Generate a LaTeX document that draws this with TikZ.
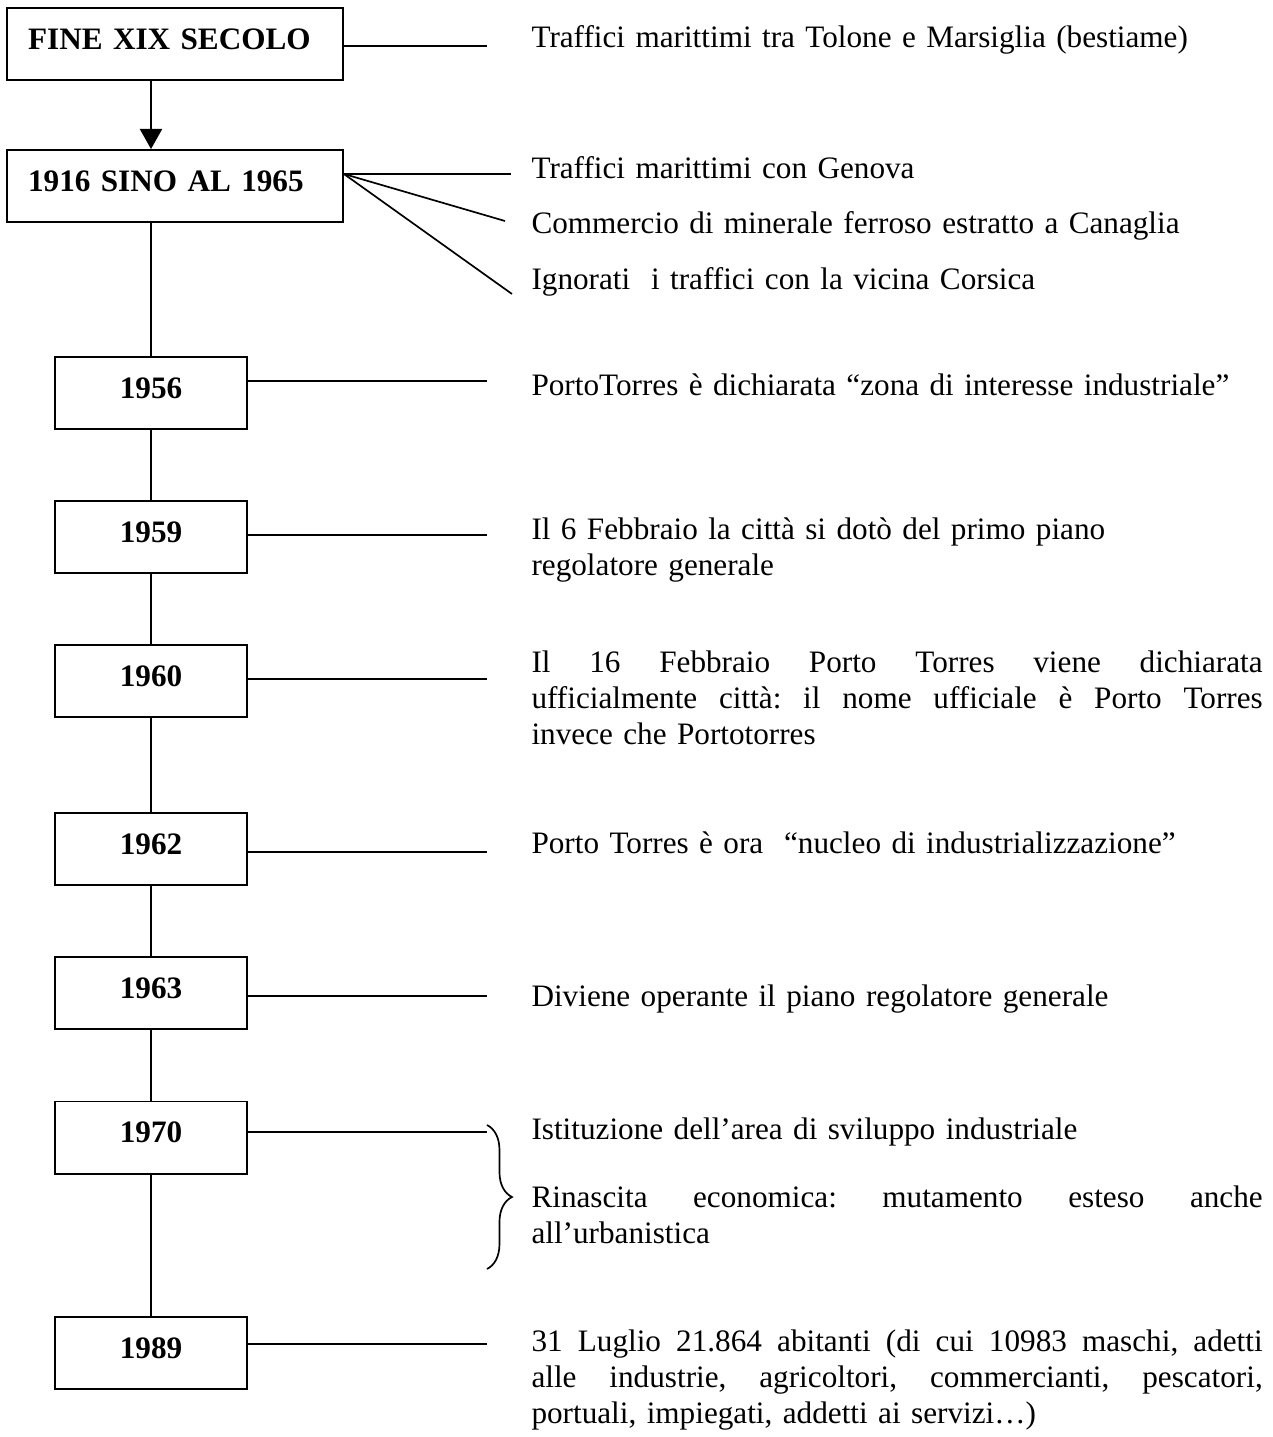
\documentclass[tikz,border=0pt]{standalone}
\usepackage{fontspec}
\setmainfont{Liberation Serif}
\usetikzlibrary{arrows.meta,decorations.pathreplacing}
\newcommand{\jline}[1]{\leavevmode\hbox to 281.2pt{\spaceskip=3pt plus 1fil\relax #1}}

\begin{document}
\begin{tikzpicture}[x=0.3846pt,y=-0.3846pt,font=\fontsize{12pt}{13.85pt}\selectfont\frenchspacing,
  >={Triangle[width=8.5pt,length=7.7pt]},
  period/.style={draw,line width=0.75pt,minimum height=27.7pt,inner sep=0pt,
    text height=8pt,text depth=4pt,font=\fontsize{12pt}{13.85pt}\selectfont\bfseries},
  era/.style={period,minimum width=129.2pt,text width=113pt,align=left},
  year/.style={period,minimum width=73.85pt},
  fact/.style={anchor=base west,inner sep=0pt,text width=281.2pt,align=left},
  link/.style={line width=0.65pt}]
 \useasboundingbox (0,0) rectangle (1273,1437);
 % ---- period boxes ----
 \node[era] (fine) at (175,44) {FINE XIX SECOLO};
 \node[era] (sino) at (175,186) {1916 SINO AL 1965};
 \foreach \n/\y in {1956/393,1959/537,1960/681,1962/849,1963/993,1970/1137.5,1989/1353}
   \node[year] (b\n) at (151,\y) {\n};
 % ---- trunk ----
 \draw[link,->] (fine.south -| b1956) -- (sino.north -| b1956);
 \draw[link] (sino.south -| b1956) -- (b1956.north);
 \foreach \a/\b in {1956/1959,1959/1960,1960/1962,1962/1963,1963/1970,1970/1989}
   \draw[link] (b\a.south) -- (b\b.north);
 % ---- leader lines ----
 \coordinate (e0) at (487,46);
 \coordinate (e1) at (511,174);
 \coordinate (e2) at (505,221);
 \coordinate (e3) at (512,294);
 \draw[link] (fine.east |- e0) -- (e0);
 \draw[link] (sino.east |- e1) -- (e1);
 \draw[link] (sino.east |- e1) -- (e2);
 \draw[link] (sino.east |- e1) -- (e3);
 \foreach \n/\y in {1956/381,1959/535,1960/679,1962/852,1963/996,1970/1132,1989/1344}{
   \coordinate (e\n) at (487,\y);
   \draw[link] (b\n.east |- e\n) -- (e\n);}
 % ---- brace for 1970 ----
 \coordinate (brA) at (487,1125);
 \coordinate (brB) at (487,1269);
 \draw[link,decorate,decoration={brace,amplitude=9.6pt}] (brA) -- (brB);
 % ---- facts ----
 \node[fact] (tFine) at (531,48) {Traffici marittimi tra Tolone e Marsiglia (bestiame)};
 \node[fact] (tGen) at (531,179) {Traffici marittimi con Genova};
 \node[fact] (tMin) at (531,234) {Commercio di minerale ferroso estratto a Canaglia};
 \node[fact] (tCor) at (531,290) {Ignorati\ \ i traffici con la vicina Corsica};
 \node[fact] (t1956) at (531,395) {PortoTorres è dichiarata “zona di interesse industriale”};
 \node[fact] (t1959) at (531,539) {Il 6 Febbraio la città si dotò del primo piano\\regolatore generale};
 \node[fact] (t1960) at (531,672) {\jline{Il 16 Febbraio Porto Torres viene dichiarata}\\
   \jline{ufficialmente città: il nome ufficiale è Porto Torres}\\invece che Portotorres};
 \node[fact] (t1962) at (531,853) {Porto Torres è ora\ \ “nucleo di industrializzazione”};
 \node[fact] (t1963) at (531,1006) {Diviene operante il piano regolatore generale};
 \node[fact] (t1970a) at (531,1139) {Istituzione dell’area di sviluppo industriale};
 \node[fact] (t1970b) at (531,1207) {\jline{Rinascita economica: mutamento esteso anche}\\all’urbanistica};
 \node[fact] (t1989) at (531,1351) {\jline{31 Luglio 21.864 abitanti (di cui 10983 maschi, adetti}\\
   \jline{alle industrie, agricoltori, commercianti, pescatori,}\\portuali, impiegati, addetti ai servizi…)};
\end{tikzpicture}
\end{document}
